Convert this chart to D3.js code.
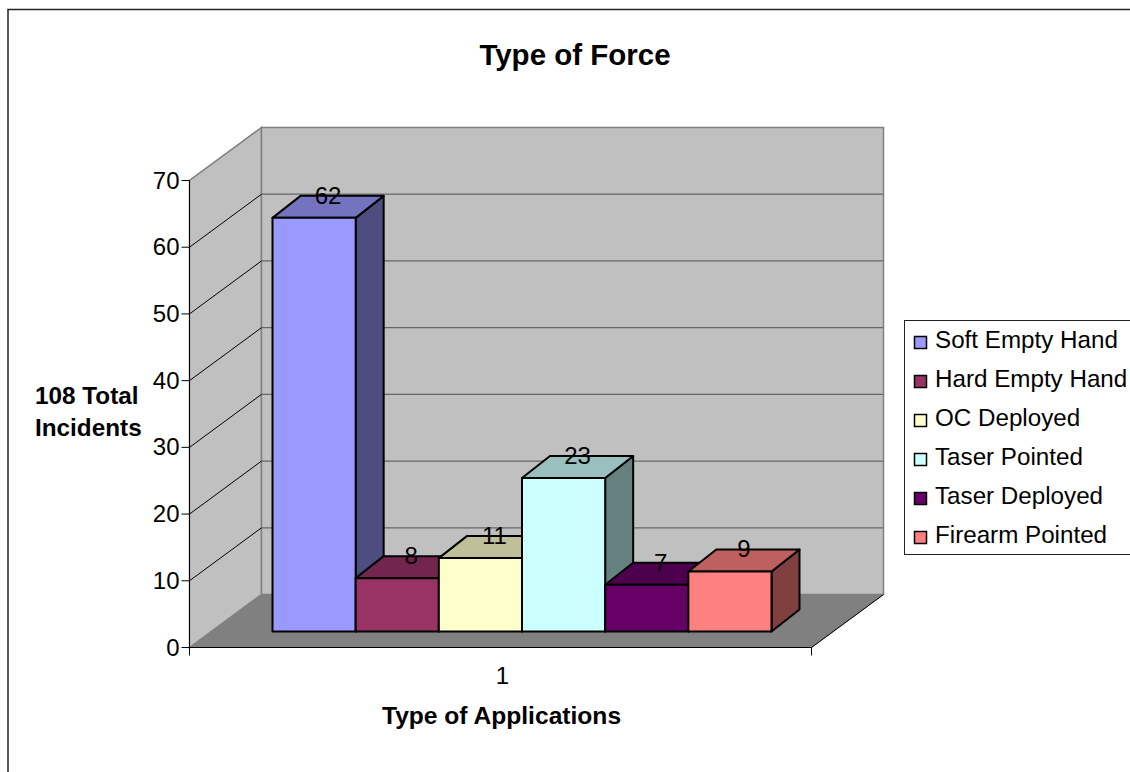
<!DOCTYPE html>
<html>
<head>
<meta charset="utf-8">
<script src="https://cdn.jsdelivr.net/npm/d3@7"></script>
<style>
  html, body { margin: 0; padding: 0; background: #fff; overflow: hidden; }
  svg { display: block; }
  text { font-family: "Liberation Sans", Arial, sans-serif; fill: #000; }
</style>
</head>
<body>
<div id="chart"></div>
<script>
// Categories and counts
const categories = ["Soft Empty Hand", "Hard Empty Hand", "OC Deployed", "Taser Pointed", "Taser Deployed", "Firearm Pointed"];
const counts = [62, 8, 11, 23, 7, 9];
const frontColors = ["#9999ff", "#993366", "#ffffcc", "#ccffff", "#660066", "#ff8080"];
const topColors = ["#7373bf", "#73264d", "#bfbf99", "#99bfbf", "#4d004d", "#bf6060"];
const sideColors = ["#4d4d80", "#4d1a33", "#808066", "#668080", "#330033", "#804040"];
const yTicks = [0, 10, 20, 30, 40, 50, 60, 70];
const groupLabels = ["1"];

const width = 1130, height = 772;
const svg = d3.select("#chart").append("svg").attr("width", width).attr("height", height);

// Outer chart frame
svg.append("rect").attr("x", 8).attr("y", 9.5).attr("width", 1140).attr("height", 780)
  .attr("fill", "#fff").attr("stroke", "#222").attr("stroke-width", 1.5);

// Scales for the front plane of the box
const y = d3.scaleLinear().domain([0, 70]).range([647.5, 180.5]);
const xGroup = d3.scaleBand().domain(groupLabels).range([189.5, 811.5]);
const wallDx = 72, wallDy = -53;

const line = d3.line();
const poly = pts => line(pts) + "Z";

// Left wall, back wall, floor
const plotL = 189.5, plotR = 811.5;
svg.append("path").attr("d", poly([[plotL, y(0)], [plotL, y(70)], [plotL + wallDx, y(70) + wallDy], [plotL + wallDx, y(0) + wallDy]]))
  .attr("fill", "#c0c0c0").attr("stroke", "#808080").attr("stroke-width", 1.5);
svg.append("path").attr("d", poly([[plotL + wallDx, y(0) + wallDy], [plotL + wallDx, y(70) + wallDy], [plotR + wallDx, y(70) + wallDy], [plotR + wallDx, y(0) + wallDy]]))
  .attr("fill", "#c0c0c0").attr("stroke", "#808080").attr("stroke-width", 1.5);
svg.append("path").attr("d", poly([[plotL, y(0)], [plotL + wallDx, y(0) + wallDy], [plotR + wallDx, y(0) + wallDy], [plotR, y(0)]]))
  .attr("fill", "#808080").attr("stroke", "#808080");

// Gridlines: back wall then the diagonal run along the left wall
const inner = yTicks.filter(t => t > 0 && t < 70);
svg.append("g").selectAll("line").data(inner).join("line")
  .attr("x1", plotL + wallDx).attr("x2", plotR + wallDx)
  .attr("y1", d => y(d) + wallDy).attr("y2", d => y(d) + wallDy)
  .attr("stroke", "#666").attr("stroke-width", 1.3);
svg.append("g").selectAll("line").data(inner).join("line")
  .attr("x1", plotL).attr("x2", plotL + wallDx)
  .attr("y1", d => y(d)).attr("y2", d => y(d) + wallDy)
  .attr("stroke", "#000").attr("stroke-width", 1);

// Axis lines and ticks
const axisG = svg.append("g").attr("stroke", "#000").attr("fill", "none");
axisG.append("line").attr("x1", plotL).attr("x2", plotL).attr("y1", y(70)).attr("y2", y(0) + 8);
axisG.append("line").attr("x1", plotL).attr("x2", plotR).attr("y1", y(0)).attr("y2", y(0));
axisG.append("line").attr("x1", plotR).attr("x2", plotR).attr("y1", y(0)).attr("y2", y(0) + 8);
axisG.append("line").attr("x1", plotR).attr("x2", plotR + wallDx).attr("y1", y(0)).attr("y2", y(0) + wallDy).attr("stroke-width", 1);
axisG.selectAll(".tick").data(yTicks).join("line").attr("class", "tick")
  .attr("x1", plotL - 8).attr("x2", plotL).attr("y1", d => y(d)).attr("y2", d => y(d));

svg.append("g").selectAll("text").data(yTicks).join("text")
  .attr("x", plotL - 10).attr("y", d => y(d) + 8)
  .attr("text-anchor", "end").attr("font-size", 24).text(d => d);

svg.append("g").selectAll("text").data(groupLabels).join("text")
  .attr("x", xGroup(groupLabels[0]) + xGroup.bandwidth() / 2 + 2).attr("y", 684)
  .attr("text-anchor", "middle").attr("font-size", 24).text(d => d);

// Bars: one group of six boxes, drawn left to right so each overlaps the previous side face
const barBase = y(0) - 16;
const xBar = d3.scaleBand().domain(categories).range([272.5, 771.5]);
const depthX = 28, depthY = -22;
const bars = categories.map((name, i) => ({ name, value: counts[i], i }));

const barG = svg.append("g").selectAll("g").data(bars).join("g")
  .attr("stroke", "#000").attr("stroke-width", 2).attr("stroke-linejoin", "round");
const barTop = d => barBase - (y(0) - y(d.value));

barG.append("path").attr("fill", d => sideColors[d.i]).attr("d", d => {
  const r = xBar(d.name) + xBar.bandwidth();
  return poly([[r, barBase], [r, barTop(d)], [r + depthX, barTop(d) + depthY], [r + depthX, barBase + depthY]]);
});
barG.append("path").attr("fill", d => topColors[d.i]).attr("d", d => {
  const l = xBar(d.name), r = l + xBar.bandwidth();
  return poly([[l, barTop(d)], [l + depthX, barTop(d) + depthY], [r + depthX, barTop(d) + depthY], [r, barTop(d)]]);
});
barG.append("rect").attr("fill", d => frontColors[d.i])
  .attr("x", d => xBar(d.name)).attr("width", xBar.bandwidth())
  .attr("y", barTop).attr("height", d => barBase - barTop(d));

// Value labels sit on the top face of each box
svg.append("g").selectAll("text").data(bars).join("text")
  .attr("x", d => xBar(d.name) + xBar.bandwidth() / 2 + 14)
  .attr("y", d => barTop(d) - 14)
  .attr("text-anchor", "middle").attr("font-size", 24).text(d => d.value);

// Titles
svg.append("text").attr("x", 575).attr("y", 65).attr("text-anchor", "middle")
  .attr("font-size", 29.5).attr("font-weight", "bold").text("Type of Force");
svg.append("text").attr("x", 501.5).attr("y", 724).attr("text-anchor", "middle")
  .attr("font-size", 24.6).attr("font-weight", "bold").text("Type of Applications");
const yTitle = svg.append("text").attr("font-size", 24.3).attr("font-weight", "bold");
yTitle.append("tspan").attr("x", 35).attr("y", 404).text("108 Total");
yTitle.append("tspan").attr("x", 35).attr("y", 436).text("Incidents");

// Legend
const legend = svg.append("g");
legend.append("rect").attr("x", 904.5).attr("y", 320.5).attr("width", 240).attr("height", 234)
  .attr("fill", "#fff").attr("stroke", "#222");
const legendRow = d3.scalePoint().domain(categories).range([340, 535]);
const items = legend.selectAll("g").data(bars).join("g")
  .attr("transform", d => `translate(0,${legendRow(d.name)})`);
items.append("rect").attr("x", 914.5).attr("y", -3.5).attr("width", 12).attr("height", 12)
  .attr("fill", d => frontColors[d.i]).attr("stroke", "#000").attr("stroke-width", 1.5);
items.append("text").attr("x", 935).attr("y", 8).attr("font-size", 24.2).text(d => d.name);
</script>
</body>
</html>
